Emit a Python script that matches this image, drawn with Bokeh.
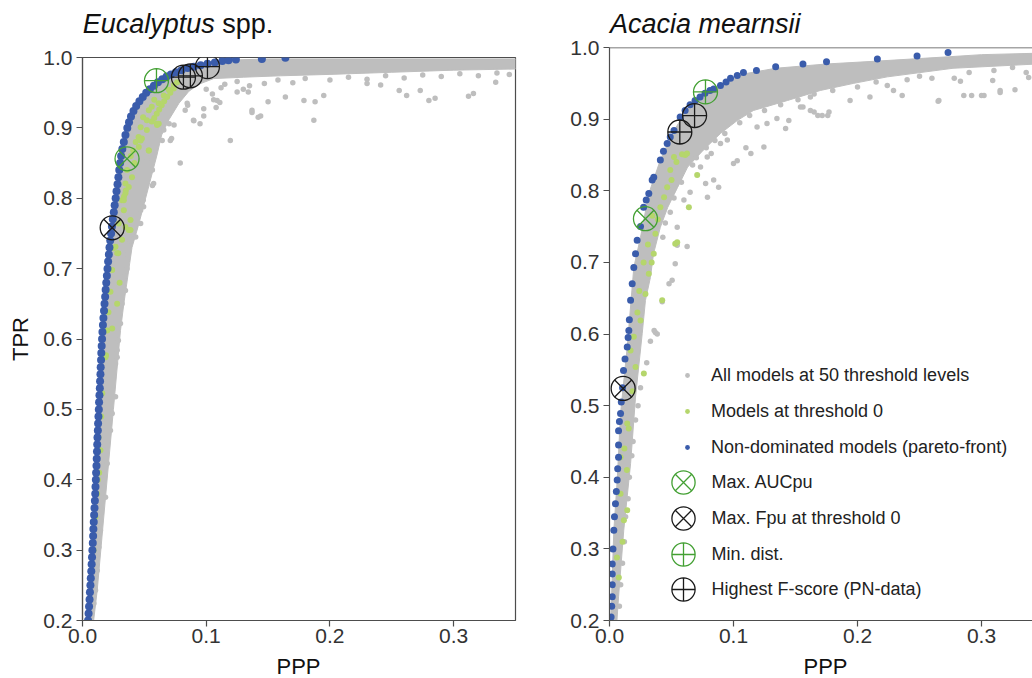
from bokeh.plotting import figure
from bokeh.models import (FixedTicker, NumeralTickFormatter, Legend, LegendItem, Span,
                          Range1d, Div)
from bokeh.layouts import row, column
from bokeh.embed import file_html
from bokeh.resources import INLINE

FONT = "Liberation Sans"
GRAY = "#BEBEBE"
LGREEN = "#B5D66C"
BLUE = "#3A5CAB"
MGREEN = "#43A033"
BLACK = "#1A1A1A"
AXC = "#4D4D4D"

x_ticks = [0.0, 0.1, 0.2, 0.3]
y_ticks = [0.2, 0.3, 0.4, 0.5, 0.6, 0.7, 0.8, 0.9, 1.0]

legend_labels = ["All models at 50 threshold levels", "Models at threshold 0",
                 "Non-dominated models (pareto-front)", "Max. AUCpu",
                 "Max. Fpu at threshold 0", "Min. dist.", "Highest F-score (PN-data)"]

# ---------------- Eucalyptus spp. ----------------
euc_core_x = [.0040, .0078, .0106, .0130, .0156, .0200, .0265, .0360, .0512, .0712, .0900, .1140,
              .1500, .3600, .3600, .3000, .2500, .2000, .1600, .1300, .1060, .0940, .0860, .0780,
              .0700, .0640, .0600, .0510, .0450, .0400, .0334, .0307, .0250, .0186, .0119, .0090]
euc_core_y = [.200, .300, .400, .500, .600, .700, .800, .900, .950, .976, .988, .996,
              .998, .998, .984, .982, .979, .976, .974, .972, .970, .962, .952, .935,
              .912, .890, .860, .800, .760, .730, .650, .612, .500, .375, .243, .200]

euc_all_x = [.1195, .079, .187, .316, .312, .280, .285, .262, .256, .273, .241, .230, .334, .195,
             .179, .188, .164, .142, .137, .150, .125, .134, .111, .108, .095, .098, .090, .083,
             .085, .106, .074, .070, .072, .0565, .0565, .049, .047, .137, .144, .1088, .098,
             .0846, .0897, .071, .0657, .0644, .0575, .0522, .0494, .047, .043,
             .0388, .0347, .032, .0307, .029, .028, .025, .0267, .024, .0226, .020, .0186, .0145,
             .0132, .0119, .0105, .0092, .028, .0267, .024, .036, .034, .0365,
             .115, .125, .135, .147, .158, .170, .180, .200, .215, .230, .245, .260, .275, .290,
             .305, .320, .335, .345, .100, .105, .112, .130]
euc_all_y = [.882, .850, .911, .949, .945, .939, .942, .946, .953, .953, .961, .963, .965, .946,
             .939, .937, .944, .915, .922, .937, .951, .951, .936, .929, .906, .917, .910, .925,
             .932, .940, .904, .906, .885, .840, .818, .797, .783, .925, .917, .939, .927,
             .935, .911, .882, .897, .882, .821, .857, .788, .764, .745,
             .740, .669, .650, .622, .598, .574, .551, .518, .494, .470, .423, .375, .328,
             .304, .271, .243, .224, .584, .565, .527, .700, .690, .720,
             .962, .966, .960, .963, .968, .964, .970, .968, .972, .969, .974, .971, .975, .973,
             .977, .974, .978, .976, .955, .948, .957, .955]

euc_t0_x = [.0105, .0118, .0135, .0145, .0152, .0160, .0186, .0190, .0200, .0210, .0240, .0226,
            .0240, .0280, .0250, .0267, .0293, .0320, .0335, .0347, .0350, .0374, .0388, .0388,
            .0410, .0453, .0470, .0520, .0536, .0560, .0616, .0657, .0697, .0738, .0765, .0616,
            .0536, .0603, .0300, .0280, .0360, .0390, .0430, .0580, .0490, .0125, .0130, .0090,
            .0738, .0684, .0640, .0600, .0560, .0520, .0480, .0455, .0374, .0347, .0334, .0334,
            .0347, .0320, .0290, .0600, .0536, .0470, .0420, .0400, .0710, .0660, .0620, .0580]
euc_t0_y = [.347, .380, .410, .442, .490, .523, .574, .577, .612, .638, .615, .667,
            .698, .722, .729, .731, .764, .797, .802, .821, .811, .755, .769, .755,
            .868, .887, .901, .911, .925, .930, .935, .946, .954, .961, .965, .906,
            .868, .904, .680, .650, .840, .860, .880, .940, .915, .400, .460, .300,
            .956, .944, .932, .920, .909, .897, .885, .873, .816, .807, .797, .783,
            .759, .741, .722, .906, .868, .882, .850, .830, .950, .938, .926, .914]

euc_front_x = [.0045, .0049, .0053, .0057, .0060, .0064, .0067, .0071, .0074, .0077,
               .0080, .0083, .0086, .0088, .0091, .0094, .0097, .0100, .0103, .0105,
               .0108, .0110, .0113, .0115, .0117, .0119, .0121, .0124, .0126, .0129,
               .0132, .0134, .0137, .0140, .0142, .0145, .0147, .0150, .0152, .0155,
               .0158, .0161, .0165, .0169, .0174, .0178, .0183, .0187, .0192, .0197,
               .0202, .0207, .0213, .0218, .0224,
               .0231, .0238, .0245, .0253, .0260, .0268, .0275, .0283, .0290, .0297,
               .0304, .0312, .0322, .0334, .0347, .0362,
               .0376, .0392, .0412, .0434, .0460, .0487, .0515, .0545, .0577, .0610,
               .0645, .0680, .0715,
               .0755, .0800, .0850, .0900, .0955, .1010, .1070, .1130, .1180, .1240,
               .1450, .1640]
euc_front_y = [.20, .21, .22, .23, .24, .25, .26, .27, .28, .29,
               .30, .31, .32, .33, .34, .35, .36, .37, .38, .39,
               .40, .41, .42, .43, .44, .45, .46, .47, .48, .49,
               .50, .51, .52, .53, .54, .55, .56, .57, .58, .59,
               .60, .61, .62, .63, .64, .65, .66, .67, .68, .69,
               .70, .71, .72, .73, .74,
               .75, .76, .77, .78, .79, .80, .81, .82, .83, .84,
               .85, .86, .87, .88, .89, .90,
               .908, .916, .924, .931, .938, .944, .950, .955, .960, .965,
               .969, .973, .976,
               .979, .982, .985, .987, .989, .991, .993, .995, .996, .997,
               .998, .9995]

euc_auc_x, euc_auc_y = [.0360], [.856]
euc_fpu_x, euc_fpu_y = [.0240], [.758]
euc_min_x, euc_min_y = [.0598], [.967]
euc_f_x, euc_f_y = [.0816, .0872, .1010], [.972, .974, .987]

# ---------------- Acacia mearnsii ----------------
aca_core_x = [.0010, .0035, .0062, .0089, .0143, .0196, .0250, .0317, .0410, .0520, .0650, .0840,
              .1080, .1340, .1750, .2160, .2730, .3000, .3450, .3450, .2770, .2240, .1970, .1700,
              .1435, .1160, .1030, .0895, .0758, .0630, .0550, .0470, .0410, .0355, .0330, .0290,
              .0264, .0210, .0170, .0115, .0073, .0060]
aca_core_y = [.200, .326, .396, .489, .582, .693, .735, .796, .843, .884, .920, .941,
              .963, .971, .977, .981, .987, .990, .992, .977, .971, .959, .950, .940,
              .926, .912, .898, .880, .857, .833, .805, .777, .749, .712, .679, .647,
              .601, .512, .419, .326, .233, .200]

aca_all_x = [.0734, .0788, .082, .0895, .095, .100, .103, .119, .127, .135, .1446, .156, .162,
             .060, .0546, .084, .065, .088, .079, .0775, .114, .1245, .110, .142, .1715, .176,
             .194, .210, .236, .2656, .2857, .292, .302, .315, .327, .309, .278, .260, .224, .229,
             .162, .0626, .0546, .053, .0505, .048, .0425, .0385, .037,
             .036, .033, .030, .025, .023, .021, .019, .018, .016, .015, .013, .012, .0105,
             .009, .008,
             .154, .165, .168, .177, .265, .300, .315, .283,
             .105, .113, .125, .138, .152, .165, .180, .200, .215, .240, .250, .290, .310, .325,
             .093, .085, .078, .070, .067, .058, .052, .049, .045, .043, .336, .338]
aca_all_y = [.833, .847, .852, .866, .871, .838, .842, .889, .894, .901, .898, .917, .931,
             .787, .749, .815, .798, .805, .791, .810, .852, .861, .860, .887, .905, .905,
             .926, .931, .933, .926, .933, .933, .933, .940, .941, .954, .957, .957, .947, .940,
             .912, .722, .724, .698, .675, .670, .645, .600, .602,
             .605, .590, .560, .525, .500, .480, .450, .430, .400, .370, .345, .310, .280,
             .250, .220,
             .917, .910, .905, .910, .925, .933, .937, .953,
             .895, .905, .912, .920, .927, .935, .940, .945, .952, .955, .960, .965, .968, .972,
             .880, .870, .860, .846, .836, .812, .790, .770, .755, .735, .965, .958]

aca_t0_x = [.0640, .0707, .0530, .0546, .0425, .0610, .0585, .0520, .0540, .0490, .0500, .0465,
            .0440, .0410, .0390, .0370, .0357, .0340, .0317, .0290, .0250, .0625, .0196, .0170,
            .0210, .0277, .0143, .0155, .0089, .0089, .0143, .0116, .0060, .0075, .0345, .0310,
            .0275, .0240, .0225, .0185, .0120, .0140, .0105]
aca_t0_y = [.777, .822, .726, .728, .647, .850, .851, .847, .840, .829, .815, .805,
            .791, .777, .760, .740, .712, .700, .684, .656, .619, .852, .596, .577,
            .554, .545, .475, .468, .428, .377, .354, .340, .288, .260, .765, .725,
            .700, .660, .630, .520, .440, .410, .310]

aca_front_x = [.0013, .0018, .0022, .0022, .0022, .0022, .0028, .0035, .0040, .0048, .0055, .0062,
               .0066, .0073, .0073, .0073, .0080, .0089, .0095, .0105, .0113, .0125, .0143, .0150,
               .0156, .0160, .0170, .0183, .0196, .0210, .0223, .0250, .0275, .0296, .0317, .0344,
               .0357, .0410, .0435, .0465, .0490, .0520, .0570, .0610, .0650, .0690, .0730, .0770,
               .0810, .0840, .0895, .0940, .0976, .1030, .1080, .1185, .1340, .1560, .1750, .2160,
               .2480, .2730]
aca_front_y = [.205, .220, .233, .250, .265, .279, .300, .326, .345, .363, .380, .396,
               .412, .428, .445, .465, .478, .489, .505, .525, .549, .565, .582, .595,
               .605, .620, .647, .670, .693, .712, .731, .750, .777, .787, .796, .815,
               .819, .843, .855, .866, .875, .884, .903, .912, .920, .926, .931, .936,
               .940, .942, .947, .952, .957, .961, .965, .968, .973, .977, .980, .984,
               .988, .993]

aca_auc_x, aca_auc_y = [.0290], [.761]
aca_fpu_x, aca_fpu_y = [.0110], [.524]
aca_min_x, aca_min_y = [.0774], [.938]
aca_f_x, aca_f_y = [.0567, .0686], [.882, .905]


def make_panel(width, height, x_end, min_left, min_right, min_top, ylabel):
    p = figure(width=width, height=height, x_range=Range1d(0, x_end),
               y_range=Range1d(0.2, 1.0),
               output_backend="svg", toolbar_location=None,
               min_border_left=min_left, min_border_right=min_right,
               min_border_top=min_top, min_border_bottom=32)
    p.xgrid.visible = False
    p.ygrid.visible = False
    p.background_fill_color = "white"
    p.border_fill_color = None
    for ax in (p.xaxis[0], p.yaxis[0]):
        ax.axis_line_color = AXC
        ax.axis_line_width = 1.2
        ax.major_tick_line_color = AXC
        ax.major_tick_line_width = 1.2
        ax.major_tick_out = 6
        ax.major_tick_in = 0
        ax.minor_tick_line_color = None
        ax.major_label_text_font = FONT
        ax.major_label_text_font_size = "21px"
        ax.major_label_text_color = "#333333"
        ax.formatter = NumeralTickFormatter(format="0.0")
    p.xaxis[0].ticker = FixedTicker(ticks=x_ticks)
    p.yaxis[0].ticker = FixedTicker(ticks=y_ticks)
    p.xaxis[0].major_label_standoff = 2
    p.yaxis[0].major_label_standoff = 4
    if ylabel:
        p.yaxis[0].axis_label = ylabel
        p.yaxis[0].axis_label_text_font = FONT
        p.yaxis[0].axis_label_text_font_size = "22px"
        p.yaxis[0].axis_label_text_font_style = "normal"
        p.yaxis[0].axis_label_text_color = "#111111"
        p.yaxis[0].axis_label_standoff = 7
    return p


def draw(p, core_x, core_y, all_x, all_y, t0_x, t0_y, fr_x, fr_y, fr_size,
         auc, fpu, mind, fsc):
    p.patch(core_x, core_y, fill_color=GRAY, line_color=GRAY, line_width=1)
    r_all = p.scatter(all_x, all_y, size=5.5, marker="circle", fill_color=GRAY, line_color=None)
    r_t0 = p.scatter(t0_x, t0_y, size=6, marker="circle", fill_color=LGREEN, line_color=None)
    r_fr = p.scatter(fr_x, fr_y, size=fr_size, marker="circle", fill_color=BLUE, line_color=None)
    r_auc_c = p.scatter(auc[0], auc[1], size=24, marker="circle", fill_color=None,
                        line_color=MGREEN, line_width=1.3)
    r_auc_x = p.scatter(auc[0], auc[1], size=24, marker="x", line_color=MGREEN, line_width=1.3)
    r_fpu_c = p.scatter(fpu[0], fpu[1], size=24, marker="circle", fill_color=None,
                        line_color=BLACK, line_width=1.3)
    r_fpu_x = p.scatter(fpu[0], fpu[1], size=24, marker="x", line_color=BLACK, line_width=1.3)
    r_min = p.scatter(mind[0], mind[1], size=24, marker="circle_cross", fill_color=None,
                      line_color=MGREEN, line_width=1.3)
    r_f = p.scatter(fsc[0], fsc[1], size=24, marker="circle_cross", fill_color=None,
                    line_color=BLACK, line_width=1.3)
    return r_all, r_t0, r_fr, (r_auc_c, r_auc_x), (r_fpu_c, r_fpu_x), r_min, r_f


def text_div(html, width, height, size, line_h, pad_left, pad_top):
    style = ("font-family:'Liberation Sans',Arial,sans-serif;font-size:%dpx;line-height:%dpx;"
             "color:#111111;padding-left:%.1fpx;padding-top:%.1fpx;white-space:nowrap;margin:0;"
             % (size, line_h, pad_left, pad_top))
    return Div(text='<div style="%s">%s</div>' % (style, html), width=width, height=height,
               margin=(0, 0, 0, 0))


# left panel: frame 82..515 x 57..620
p1 = make_panel(528, 611, 0.35, 82, 13, 16, "TPR")
p1.outline_line_color = AXC
p1.outline_line_width = 1.2
draw(p1, euc_core_x, euc_core_y, euc_all_x, euc_all_y, euc_t0_x, euc_t0_y,
     euc_front_x, euc_front_y, 8, (euc_auc_x, euc_auc_y), (euc_fpu_x, euc_fpu_y),
     (euc_min_x, euc_min_y), (euc_f_x, euc_f_y))

# right panel: frame 609..1032 x 47..620
p2 = make_panel(504, 618, 0.3411, 81, 0, 13, None)
p2.outline_line_color = None
p2.add_layout(Span(location=1.0, dimension="width", line_color=AXC, line_width=1.5))
r = draw(p2, aca_core_x, aca_core_y, aca_all_x, aca_all_y, aca_t0_x, aca_t0_y,
         aca_front_x, aca_front_y, 7, (aca_auc_x, aca_auc_y), (aca_fpu_x, aca_fpu_y),
         (aca_min_x, aca_min_y), (aca_f_x, aca_f_y))

leg_common = dict(padding=0, margin=0, background_fill_alpha=0, border_line_color=None,
                  label_text_font=FONT, label_text_font_size="18px",
                  label_text_color="#222222")
leg1 = Legend(items=[LegendItem(label=legend_labels[0], renderers=[r[0]]),
                     LegendItem(label=legend_labels[1], renderers=[r[1]]),
                     LegendItem(label=legend_labels[2], renderers=[r[2]])],
              location=(72, 155), glyph_width=12, glyph_height=36, label_height=36,
              spacing=0, label_standoff=18, **leg_common)
p2.add_layout(leg1)
big_items = [(legend_labels[3], list(r[3]), 108.7), (legend_labels[4], list(r[4]), 72.7),
             (legend_labels[5], [r[5]], 37.0), (legend_labels[6], [r[6]], 1.7)]
for lab, rends, yloc in big_items:
    p2.add_layout(Legend(items=[LegendItem(label=lab, renderers=rends)],
                         location=(44.5, yloc), glyph_width=58, glyph_height=58,
                         label_height=36, spacing=0, label_standoff=0, **leg_common))

d1 = text_div("<i>Eucalyptus</i> spp.", 528, 41, 27, 30, 82.7, 9)
d2 = text_div("<i>Acacia mearnsii</i>", 504, 34, 27, 26, 82, 11)
d3 = text_div("PPP", 528, 26, 22, 22, 276.5, 4)
d4 = text_div("PPP", 504, 26, 22, 22, 275.5, 4)

layout = row(column(d1, p1, d3), column(d2, p2, d4))
open("out.html", "w").write(file_html(layout, INLINE))
